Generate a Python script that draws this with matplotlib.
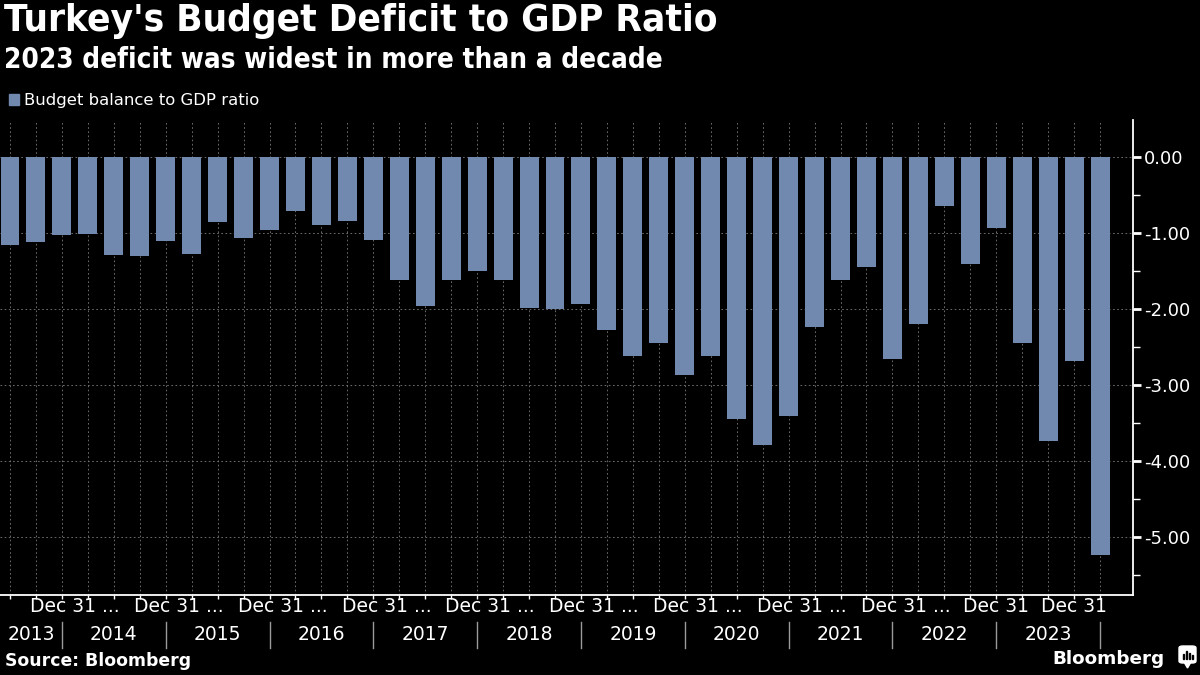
import matplotlib
matplotlib.use("Agg")
import matplotlib.pyplot as plt
import matplotlib.transforms as mtransforms
from matplotlib.patches import Rectangle, FancyBboxPatch, Polygon
from matplotlib import font_manager

# ---------------- data ----------------
quarter_ends = (["2013-06-30", "2013-09-30", "2013-12-31"] +
                [f"{y}-{md}" for y in range(2014, 2024)
                 for md in ("03-31", "06-30", "09-30", "12-31")])
budget_balance = [
    -1.15, -1.11, -1.02, -1.01,
    -1.285, -1.30, -1.10, -1.27,
    -0.85, -1.06, -0.96, -0.71,
    -0.89, -0.84, -1.09, -1.62,
    -1.96, -1.62, -1.50, -1.61,
    -1.98, -2.00, -1.93, -2.27,
    -2.61, -2.45, -2.86, -2.61,
    -3.45, -3.78, -3.41, -2.23,
    -1.61, -1.44, -2.65, -2.19,
    -0.64, -1.40, -0.93, -2.44,
    -3.73, -2.68, -5.23,
]
years = [str(y) for y in range(2013, 2024)]
period_labels = ["Dec 31 ..."] * 9 + ["Dec 31", "Dec 31"]
y_ticks = [0, -1, -2, -3, -4, -5]
y_tick_labels = ["0.00", "-1.00", "-2.00", "-3.00", "-4.00", "-5.00"]

title = "Turkey's Budget Deficit to GDP Ratio"
subtitle = "2023 deficit was widest in more than a decade"
legend_label = "Budget balance to GDP ratio"
source = "Source: Bloomberg"

# ---------------- style ----------------
BG = "black"
BAR = "#7189ae"
GRID = "#7a7a7a"
W, H = 1200, 675

# prefer a condensed bold face for the headline if one is installed
names = {f.name for f in font_manager.fontManager.ttflist}
head_family = "DejaVu Sans"
head_stretch = "normal"
for cand in ("Liberation Sans Narrow", "DejaVu Sans Condensed"):
    if cand in names:
        head_family = cand
        break
else:
    for f in font_manager.fontManager.ttflist:
        if f.name == "DejaVu Sans" and f.stretch == "condensed":
            head_stretch = "condensed"
            break

plt.rcParams['font.family'] = ['DejaVu Sans']
fig = plt.figure(figsize=(12, 6.75), dpi=100, facecolor=BG)

def fx(px):
    return px / W

def fy(py):
    return 1 - py / H

ax = fig.add_axes([fx(0), fy(595), fx(1133), fy(120) - fy(595)], facecolor=BG)

x = list(range(len(budget_balance)))
ax.bar(x, budget_balance, width=0.73, color=BAR, zorder=3)

ax.set_xlim(-0.385, 43.27)
ax.set_ylim(-5.76, 0.49)

# grid
for xi in x:
    ax.axvline(xi, color=GRID, lw=0.6, ls=(0, (2, 3)), zorder=1)
for yt in y_ticks:
    ax.axhline(yt, color=GRID, lw=0.6, ls=(0, (2, 3)), zorder=1)

# spines
for s in ("top", "left"):
    ax.spines[s].set_visible(False)
for s in ("right", "bottom"):
    ax.spines[s].set_color("white")
    ax.spines[s].set_linewidth(1.3)

ax.yaxis.tick_right()
ax.set_yticks(y_ticks)
ax.set_yticklabels(y_tick_labels)
ax.set_yticks([v + 0.5 for v in range(-6, 0)], minor=True)
ax.tick_params(axis="y", which="major", colors="white", length=6, width=2,
               labelsize=13, pad=2)
ax.tick_params(axis="y", which="minor", colors="white", length=5, width=1)

ax.set_xticks(x)
ax.set_xticklabels([])
ax.tick_params(axis="x", which="major", colors="white", length=3, width=1)

# custom x labels
trans = mtransforms.blended_transform_factory(ax.transData, fig.transFigure)
label_pos = [2.5 + 4 * k for k in range(9)] + [38, 41]
for pos, lab in zip(label_pos, period_labels):
    fig.text(pos, fy(606), lab, transform=trans, color="white", fontsize=13.5,
             ha="center", va="center")

dec_idx = [i for i, q in enumerate(quarter_ends) if q.endswith("12-31")]
left_edge = -0.385
prev = left_edge
for yr, di in zip(years, dec_idx):
    fig.text((prev + di) / 2, fy(634), yr, transform=trans, color="white",
             fontsize=13.5, ha="center", va="center")
    fig.add_artist(plt.Line2D([di, di], [fy(622), fy(648)], transform=trans,
                              color="#9a9a9a", lw=1))
    prev = di

# titles
renderer = fig.canvas.get_renderer()

def fit(t, target_w):
    bb = t.get_window_extent(renderer)
    t.set_fontsize(t.get_fontsize() * target_w / bb.width)

t1 = fig.text(fx(4), fy(21), title, color="white", fontsize=22,
              fontweight="bold", family=head_family, fontstretch=head_stretch,
              ha="left", va="center")
fit(t1, 711)
t2 = fig.text(fx(4), fy(60), subtitle, color="white", fontsize=17,
              fontweight="bold", family=head_family, fontstretch=head_stretch,
              ha="left", va="center")
fit(t2, 657)

# legend
fig.add_artist(Rectangle((fx(9), fy(105)), fx(10), fy(94) - fy(105),
                         transform=fig.transFigure, color=BAR))
t3 = fig.text(fx(24), fy(100), legend_label, color="white", fontsize=12,
              ha="left", va="center")
fit(t3, 234)

# source
t4 = fig.text(fx(5), fy(661), source, color="white", fontsize=12,
              fontweight="bold", ha="left", va="center")
fit(t4, 186)

# Bloomberg logo
t5 = fig.text(fx(1165), fy(659), "Bloomberg", color="white", fontsize=15,
              fontweight="bold", ha="right", va="center")
fit(t5, 113)
fig.add_artist(FancyBboxPatch((fx(1179), fy(663)), fx(17), fy(646) - fy(663),
                              boxstyle="round,pad=0,rounding_size=0.003",
                              transform=fig.transFigure, color="white"))
fig.add_artist(Polygon([(fx(1184), fy(662)), (fx(1191), fy(662)),
                        (fx(1187.5), fy(668))], closed=True,
                       transform=fig.transFigure, color="white"))
for bx, bh in [(1182.5, 5), (1185.5, 8), (1188.5, 6), (1191.5, 4)]:
    fig.add_artist(Rectangle((fx(bx), fy(659)), fx(1.7), fy(659 - bh) - fy(659),
                             transform=fig.transFigure, color="black"))

fig.savefig("out.png", dpi=100, facecolor=BG)
